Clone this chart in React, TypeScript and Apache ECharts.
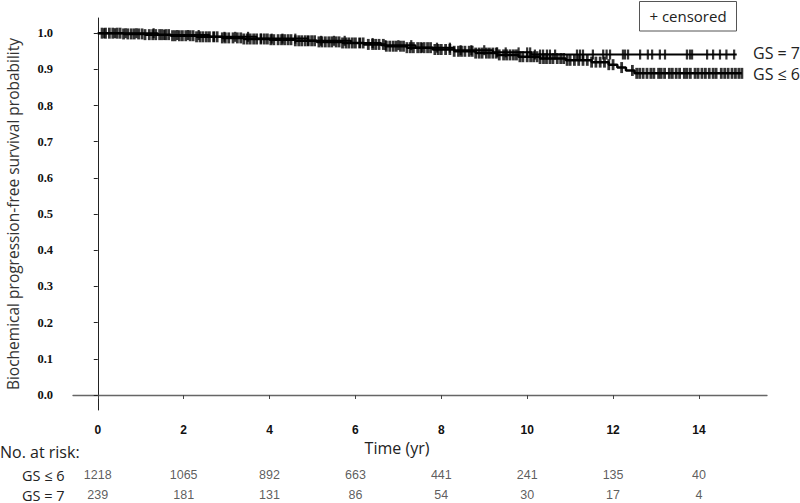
import React, { useEffect, useRef } from "react";
import * as echarts from "echarts";

// Kaplan-Meier step points [time (yr), survival]
const gs6Steps: [number, number][] = [
  [0, 1], [0.6, 0.998], [1.1, 0.996], [1.7, 0.993], [2.3, 0.99], [2.9, 0.987],
  [3.4, 0.984], [4.0, 0.982], [4.6, 0.979], [5.1, 0.976], [5.7, 0.973], [6.2, 0.969],
  [6.7, 0.964], [7.2, 0.96], [7.8, 0.955], [8.3, 0.95], [8.8, 0.945], [9.3, 0.94],
  [9.8, 0.935], [10.3, 0.93], [10.9, 0.925], [11.5, 0.92], [11.9, 0.913], [12.1, 0.905],
  [12.3, 0.897], [12.5, 0.889], [15.0, 0.889],
];
const gs7Steps: [number, number][] = [
  [0, 1], [1.4, 0.995], [2.6, 0.99], [3.7, 0.985], [4.9, 0.979], [5.9, 0.973],
  [6.6, 0.967], [7.4, 0.96], [8.3, 0.953], [9.2, 0.947], [10.1, 0.941], [14.88, 0.941],
];

// censoring times (yr)
const gs6Censored: number[] = [
  0.1, 0.18, 0.27, 0.35, 0.45, 0.52, 0.6, 0.7, 0.78, 0.85, 0.95, 1.03, 1.1, 1.2, 1.28, 1.35,
  1.44, 1.5, 1.58, 1.65, 1.74, 1.8, 1.9, 1.97, 2.05, 2.15, 2.22, 2.3, 2.38, 2.45, 2.53, 2.6,
  2.7, 2.78, 2.9, 2.97, 3.05, 3.15, 3.25, 3.33, 3.4, 3.48, 3.55, 3.63, 3.7, 3.8, 3.88, 3.95,
  4.03, 4.1, 4.2, 4.28, 4.35, 4.43, 4.5, 4.6, 4.68, 4.75, 4.83, 4.9, 4.98, 5.05, 5.15, 5.22,
  5.3, 5.38, 5.45, 5.55, 5.62, 5.7, 5.78, 5.85, 5.93, 6.0, 6.1, 6.18, 6.3, 6.4, 6.47, 6.55,
  6.65, 6.72, 6.8, 6.88, 6.95, 7.05, 7.12, 7.2, 7.28, 7.35, 7.45, 7.52, 7.6, 7.68, 7.75,
  7.85, 7.93, 8.0, 8.1, 8.2, 8.3, 8.4, 8.47, 8.55, 8.65, 8.72, 8.8, 8.88, 8.95, 9.05, 9.12,
  9.2, 9.28, 9.35, 9.45, 9.52, 9.6, 9.68, 9.75, 9.83, 9.9, 10.0, 10.08, 10.15, 10.23, 10.3,
  10.38, 10.45, 10.53, 10.6, 10.7, 10.78, 10.85, 10.93, 11.0, 11.1, 11.2, 11.3, 11.4, 11.5,
  11.6, 11.7, 11.8, 11.9, 12.0, 12.2, 12.45, 12.55, 12.62, 12.7, 12.79, 12.88, 12.95, 13.06,
  13.12, 13.2, 13.31, 13.38, 13.47, 13.55, 13.66, 13.72, 13.8, 13.91, 13.98, 14.07, 14.15,
  14.24, 14.33, 14.4, 14.52, 14.6, 14.68, 14.77, 14.85, 14.93, 15.0,
];
const gs7Censored: number[] = [
  0.15, 0.4, 0.65, 0.9, 1.3, 1.55, 1.85, 2.1, 2.35, 2.7, 2.95, 3.2, 3.5, 3.8, 4.05, 4.3,
  4.6, 4.9, 5.2, 5.5, 5.75, 6.1, 6.4, 6.7, 7.0, 7.3, 7.55, 7.9, 8.2, 8.45, 8.7, 9.0, 9.3,
  9.5, 9.8, 10.0, 10.07, 10.18, 10.3, 10.37, 10.46, 10.53, 10.65, 11.16, 11.23, 11.3,
  11.53, 11.77, 11.85, 11.93, 12.23, 12.28, 12.35, 12.63, 12.81, 12.91, 13.09, 13.21,
  13.72, 13.79, 13.84, 14.19, 14.33, 14.49, 14.64, 14.82,
];

const xTicks: number[] = [0, 2, 4, 6, 8, 10, 12, 14];
const yTicks: number[] = [0, 0.1, 0.2, 0.3, 0.4, 0.5, 0.6, 0.7, 0.8, 0.9, 1.0];
const riskGs6: number[] = [1218, 1065, 892, 663, 441, 241, 135, 40];
const riskGs7: number[] = [239, 181, 131, 86, 54, 30, 17, 4];

// row positions of the at-risk table, in y-axis units (below the plot)
const RISK_ROW_GS6 = -0.2212;
const RISK_ROW_GS7 = -0.2765;

function survivalAt(steps: [number, number][], t: number): number {
  let v = steps[0][1];
  for (const [st, sv] of steps) {
    if (st <= t) v = sv;
    else break;
  }
  return v;
}

export default function App() {
  const ref = useRef<HTMLDivElement>(null);
  useEffect(() => {
    if (!ref.current) return;
    const chart = echarts.init(ref.current, undefined, { renderer: "svg" });
    const sans = "'Open Sans', sans-serif";
    const censorStyle = {
      type: "scatter" as const,
      symbol: "rect",
      symbolSize: [2.8, 11],
      itemStyle: { color: "#000" },
      silent: true,
      z: 4,
    };
    const riskLabel = {
      show: true,
      position: "inside" as const,
      color: "#333",
      fontSize: 12.5,
      fontFamily: "'Liberation Sans', Arial, sans-serif",
      formatter: (p: any) => String(p.value[2]),
    };
    chart.setOption({
      animation: false,
      backgroundColor: "#fff",
      grid: { left: 73, right: 33, top: 18, bottom: 93, outerBoundsMode: "none", containLabel: false },
      xAxis: {
        type: "value",
        min: -0.577,
        max: 15.585,
        axisLine: { show: true, lineStyle: { color: "#666", width: 1.3 } },
        axisTick: { show: true, customValues: xTicks, length: 4, lineStyle: { color: "#444" } },
        axisLabel: {
          customValues: xTicks,
          margin: 14,
          color: "#111",
          fontWeight: "bold",
          fontSize: 12,
          fontFamily: "'Liberation Sans', Arial, sans-serif",
        },
        splitLine: { show: false },
      },
      yAxis: {
        type: "value",
        min: -0.0415,
        max: 1.042,
        name: "Biochemical progression-free survival probability",
        nameLocation: "middle",
        nameGap: 52,
        nameRotate: 90,
        nameTextStyle: { fontFamily: sans, fontSize: 15.5, color: "#333" },
        axisLine: { show: true, lineStyle: { color: "#222", width: 1 } },
        axisTick: { show: true, customValues: yTicks, length: 4, lineStyle: { color: "#222" } },
        axisLabel: {
          customValues: yTicks,
          formatter: (v: number) => v.toFixed(1),
          margin: 20,
          color: "#111",
          fontWeight: "bold",
          fontSize: 12.5,
          fontFamily: "'Liberation Serif', 'Times New Roman', serif",
        },
        splitLine: { show: false },
      },
      series: [
        {
          type: "line",
          name: "GS ≤ 6",
          step: "end",
          data: gs6Steps,
          symbol: "none",
          lineStyle: { color: "#000", width: 2.5 },
          silent: true,
          z: 3,
        },
        {
          type: "line",
          name: "GS = 7",
          step: "end",
          data: gs7Steps,
          symbol: "none",
          lineStyle: { color: "#000", width: 2 },
          silent: true,
          z: 3,
        },
        { ...censorStyle, data: gs6Censored.map((t) => [t, survivalAt(gs6Steps, t)]) },
        { ...censorStyle, symbolSize: [2.2, 10], data: gs7Censored.map((t) => [t, survivalAt(gs7Steps, t)]) },
        {
          type: "scatter",
          clip: false,
          symbolSize: 1,
          itemStyle: { color: "rgba(0,0,0,0)" },
          label: riskLabel,
          silent: true,
          data: xTicks.map((t, i) => [t, RISK_ROW_GS6, riskGs6[i]]),
        },
        {
          type: "scatter",
          clip: false,
          symbolSize: 1,
          itemStyle: { color: "rgba(0,0,0,0)" },
          label: riskLabel,
          silent: true,
          data: xTicks.map((t, i) => [t, RISK_ROW_GS7, riskGs7[i]]),
        },
      ],
      graphic: [
        {
          type: "rect",
          shape: { x: 639.5, y: 1.5, width: 97, height: 29.5 },
          style: { fill: "none", stroke: "#555", lineWidth: 1 },
        },
        {
          type: "text",
          x: 688,
          y: 15.5,
          style: {
            text: "+ censored",
            fontFamily: sans,
            fontSize: 15,
            fill: "#222",
            textAlign: "center",
            textVerticalAlign: "middle",
          },
        },
        {
          type: "text",
          x: 753,
          y: 53,
          style: { text: "GS = 7", fontFamily: sans, fontSize: 16, fill: "#222", textVerticalAlign: "middle" },
        },
        {
          type: "text",
          x: 753,
          y: 74,
          style: { text: "GS ≤ 6", fontFamily: sans, fontSize: 16, fill: "#222", textVerticalAlign: "middle" },
        },
        {
          type: "text",
          x: 397,
          y: 448,
          style: { text: "Time (yr)", fontFamily: sans, fontSize: 16, fill: "#222", textAlign: "center", textVerticalAlign: "middle" },
        },
        {
          type: "text",
          x: 0,
          y: 452,
          style: { text: "No. at risk:", fontFamily: sans, fontSize: 16, fill: "#222", textVerticalAlign: "middle" },
        },
        {
          type: "text",
          x: 22,
          y: 475,
          style: { text: "GS ≤ 6", fontFamily: sans, fontSize: 14.5, fill: "#222", textVerticalAlign: "middle" },
        },
        {
          type: "text",
          x: 22,
          y: 495,
          style: { text: "GS = 7", fontFamily: sans, fontSize: 14.5, fill: "#222", textVerticalAlign: "middle" },
        },
      ],
    });
    return () => chart.dispose();
  }, []);
  return (
    <div
      ref={ref}
      style={{ position: "absolute", left: 0, top: 0, width: 800, height: 503 }}
    />
  );
}
